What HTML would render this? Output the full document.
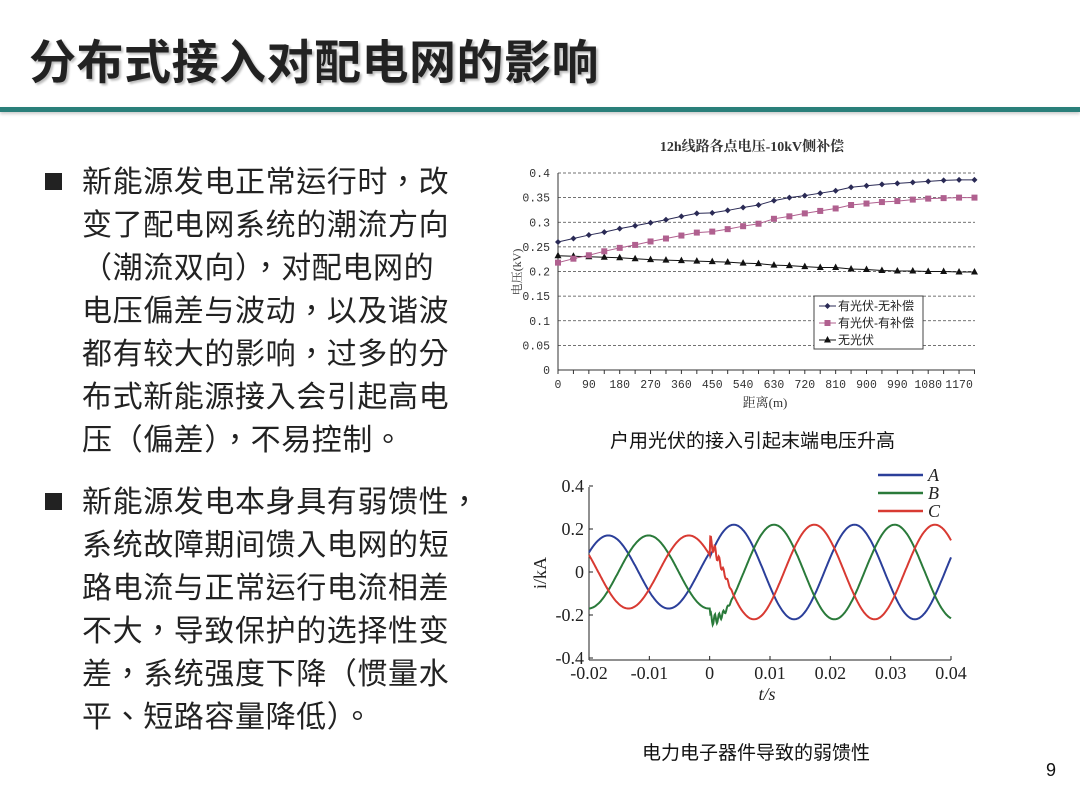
<!DOCTYPE html>
<html><head><meta charset="utf-8">
<style>
body{margin:0;width:1080px;height:810px;background:#fff;position:relative;overflow:hidden;font-family:"Liberation Sans","Noto Sans CJK TC",sans-serif;}
.title{position:absolute;left:29px;top:24px;font-size:47px;font-weight:bold;color:#222;letter-spacing:0.5px;text-shadow:2px 2px 2px #bbb;font-family:"Liberation Sans","Noto Sans CJK SC",sans-serif;}
.bar{position:absolute;left:0;top:107px;width:1080px;height:5px;background:#2a7f7a;box-shadow:0 2px 3px #ccc;}
.p{position:absolute;left:82px;font-size:30px;line-height:43px;color:#222;letter-spacing:0.6px;white-space:nowrap;font-family:"Liberation Sans","Noto Sans CJK TC",sans-serif;}
.b{position:absolute;left:45px;width:17px;height:17px;background:#222;}
.cap{position:absolute;font-size:19px;color:#111;font-family:"Liberation Sans","Noto Sans CJK SC",sans-serif;}
</style></head><body>
<div class="title">分布式接入对配电网的影响</div>
<div class="bar"></div>
<div class="b" style="top:173px"></div>
<div class="p" style="top:161px">新能源发电正常运行时，改<br>变了配电网系统的潮流方向<br>（潮流双向），对配电网的<br>电压偏差与波动，以及谐波<br>都有较大的影响，过多的分<br>布式新能源接入会引起高电<br>压（偏差），不易控制。</div>
<div class="b" style="top:493px"></div>
<div class="p" style="top:481px">新能源发电本身具有弱馈性，<br>系统故障期间馈入电网的短<br>路电流与正常运行电流相差<br>不大，导致保护的选择性变<br>差，系统强度下降（惯量水<br>平、短路容量降低）。</div>
<div class="cap" style="left:610px;top:426px">户用光伏的接入引起末端电压升高</div>
<div class="cap" style="left:642px;top:738px">电力电子器件导致的弱馈性</div>
<div class="cap" style="left:1046px;top:760px;font-size:18px">9</div>
<svg width="1080" height="810" style="position:absolute;left:0;top:0" id="s">
<g id="c1" font-family="Liberation Mono,monospace" font-size="11.5" fill="#333"></g>
<g id="c2" font-family="Liberation Serif,serif" font-size="18" fill="#222"></g>
</svg>
<script>
var NS="http://www.w3.org/2000/svg";
function el(p,t,a,txt){var e=document.createElementNS(NS,t);for(var k in a)e.setAttribute(k,a[k]);if(txt!==undefined)e.textContent=txt;p.appendChild(e);return e;}
var c1=document.getElementById('c1');
var L=558,R=975,T=173,B=370;
function Y1(v){return B-(v/0.4)*(B-T);}
function X1(d){return L+d/90*30.85;}
el(c1,'text',{x:752,y:151,'text-anchor':'middle','font-family':'Liberation Serif,Noto Serif CJK SC,serif','font-size':14,'font-weight':'bold',fill:'#333'},'12h线路各点电压-10kV侧补偿');
for(var i=0;i<=8;i++){var v=i*0.05,y=Y1(v);
 if(i>0)el(c1,'line',{x1:L,x2:R,y1:y,y2:y,stroke:'#444','stroke-dasharray':'3,2','stroke-width':0.8});
 el(c1,'text',{x:550,y:y+4,'text-anchor':'end'},i==0?'0':(+v.toFixed(2)).toString());}
el(c1,'line',{x1:L,x2:L,y1:T,y2:B,stroke:'#333'});
el(c1,'line',{x1:L,x2:R,y1:B,y2:B,stroke:'#333'});
for(var d=0;d<=1215;d+=45){el(c1,'line',{x1:X1(d),x2:X1(d),y1:B,y2:B+4,stroke:'#333'});}
for(var d=0;d<=1170;d+=90){el(c1,'text',{x:X1(d),y:388,'text-anchor':'middle'},d);}
el(c1,'text',{x:765,y:407,'text-anchor':'middle','font-family':'Liberation Serif,Noto Serif CJK SC,serif','font-size':13},'距离(m)');
el(c1,'text',{x:0,y:0,transform:'translate(521,272) rotate(-90)','text-anchor':'middle','font-family':'Liberation Serif,Noto Serif CJK SC,serif','font-size':12},'电压(kV)');
var blue=[.26,.267,.274,.28,.287,.293,.299,.305,.312,.318,.319,.324,.33,.335,.344,.35,.354,.359,.364,.371,.374,.377,.379,.381,.383,.385,.386,.386];
var pink=[.218,.226,.233,.241,.248,.254,.261,.267,.273,.279,.281,.286,.292,.297,.307,.312,.318,.323,.328,.335,.338,.341,.343,.346,.348,.349,.35,.35];
var blk=[.232,.231,.23,.229,.228,.226,.224,.223,.222,.221,.22,.219,.217,.216,.213,.212,.21,.208,.208,.205,.204,.202,.201,.201,.2,.2,.199,.199];
function series(arr,col,mk){var pts=arr.map(function(v,i){return X1(i*45)+','+Y1(v)}).join(' ');
 el(c1,'polyline',{points:pts,fill:'none',stroke:col,'stroke-width':1});
 arr.forEach(function(v,i){var x=X1(i*45),y=Y1(v);marker(x,y,col,mk);});}
function marker(x,y,col,mk){
 if(mk==0)el(c1,'polygon',{points:(x)+','+(y-3)+' '+(x+3)+','+y+' '+x+','+(y+3)+' '+(x-3)+','+y,fill:col});
 else if(mk==1)el(c1,'rect',{x:x-3,y:y-3,width:6,height:6,fill:col});
 else el(c1,'polygon',{points:x+','+(y-4)+' '+(x+3.5)+','+(y+2.5)+' '+(x-3.5)+','+(y+2.5),fill:col});}
series(blk,'#111',2);series(pink,'#b0608f',1);series(blue,'#2a2a55',0);
el(c1,'rect',{x:814,y:296,width:109,height:53,fill:'#fff',stroke:'#444'});
var lg=[['有光伏-无补偿','#2a2a55',0],['有光伏-有补偿','#b0608f',1],['无光伏','#111',2]];
lg.forEach(function(l,i){var y=306+i*17;el(c1,'line',{x1:819,x2:836,y1:y,y2:y,stroke:l[1]});marker(827.5,y,l[1],l[2]);
 el(c1,'text',{x:838,y:y+4,'font-family':'Liberation Sans,Noto Sans CJK SC,sans-serif','font-size':12,fill:'#222'},l[0]);});
var c2=document.getElementById('c2');
var L2=589,R2=951,Y0=572,sc=43/0.2;
function X2(t){return L2+(t+0.02)/0.06*(R2-L2);}
function Y2(v){return Y0-v*sc;}
el(c2,'line',{x1:L2,x2:L2,y1:487,y2:660,stroke:'#222'});
el(c2,'line',{x1:L2,x2:R2,y1:660,y2:660,stroke:'#222'});
[-0.4,-0.2,0,0.2,0.4].forEach(function(v){var y=Y2(v);el(c2,'line',{x1:L2,x2:L2+4,y1:y,y2:y,stroke:'#222'});
 el(c2,'text',{x:584,y:y+6,'text-anchor':'end'},v==0?'0':v.toFixed(1));});
[-0.02,-0.01,0,0.01,0.02,0.03,0.04].forEach(function(t){var x=X2(t);el(c2,'line',{x1:x,x2:x,y1:660,y2:656,stroke:'#222'});
 el(c2,'text',{x:x,y:679,'text-anchor':'middle'},t==0?'0':t.toFixed(2));});
el(c2,'text',{x:767,y:700,'text-anchor':'middle','font-style':'italic'},'t/s');
el(c2,'text',{x:0,y:0,transform:'translate(546,573) rotate(-90)','text-anchor':'middle'},'i/kA');
var cols=['#2b3f9a','#2a7a3a','#d83a32'],shift=[0,0.02/3,0.04/3];
for(var k=0;k<3;k++){var pts=[];
 for(var t=-0.02;t<=0.0401;t+=0.0001){var v;
  if(t<0){v=0.17*Math.cos(2*Math.PI*50*(t-0.004-shift[k])+0.25);}
  else v=0.22*Math.cos(2*Math.PI*50*(t-0.004-shift[k]));
  if(k>0&&t>=0&&t<0.004){v+=0.03*Math.sin(t*9000)*(1-t/0.004);}
  pts.push(X2(t).toFixed(1)+','+Y2(v).toFixed(1));}
 el(c2,'polyline',{points:pts.join(' '),fill:'none',stroke:cols[k],'stroke-width':2});}
['A','B','C'].forEach(function(n,i){var y=475+i*18;el(c2,'line',{x1:878,x2:923,y1:y,y2:y,stroke:cols[i],'stroke-width':2.5});
 el(c2,'text',{x:928,y:y+6,'font-style':'italic'},n);});
</script>
</body></html>
